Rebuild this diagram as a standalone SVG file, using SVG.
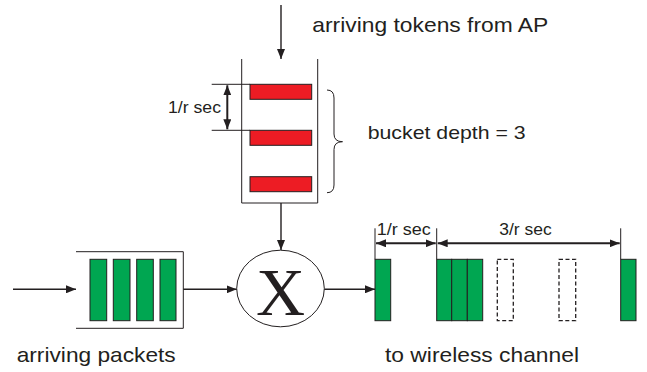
<svg xmlns="http://www.w3.org/2000/svg" width="647" height="372" viewBox="0 0 647 372">
<defs>
<marker id="ah" viewBox="0 0 10 8" refX="10" refY="4" markerWidth="10" markerHeight="8" markerUnits="userSpaceOnUse" orient="auto-start-reverse">
<path d="M0,0 L10,4 L0,8 Z" fill="#231f20"/>
</marker>
<style>
.ln{stroke:#231f20;stroke-width:1.4;fill:none}
.thin{stroke:#231f20;stroke-width:1;fill:none}
.arr{stroke:#231f20;stroke-width:1.4;fill:none;marker-end:url(#ah)}
.dbl{stroke:#231f20;stroke-width:2;fill:none;marker-end:url(#ah);marker-start:url(#ah)}
.red{fill:#ed1c24;stroke:#231f20;stroke-width:1}
.grn{fill:#00a651;stroke:#231f20;stroke-width:1}
.dash{fill:none;stroke:#231f20;stroke-width:1.3;stroke-dasharray:4,2.5}
.t{font-family:"Liberation Sans",Arial,sans-serif;fill:#231f20}
</style>
</defs>
<rect width="647" height="372" fill="#ffffff"/>

<g id="bucket">
<path class="thin" d="M241.7,59 V203 H317.7 V59"/>
<rect class="red" x="250" y="84.3" width="61.7" height="15"/>
<rect class="red" x="250" y="130.3" width="61.7" height="15"/>
<rect class="red" x="250" y="176.7" width="61.7" height="15"/>
<line class="thin" x1="211.7" y1="84.3" x2="250" y2="84.3"/>
<line class="thin" x1="211.7" y1="130.3" x2="250" y2="130.3"/>
<text class="t" x="168" y="113.3" font-size="16" textLength="53" lengthAdjust="spacingAndGlyphs">1/r sec</text>
<path class="thin" d="M327,90 Q334,90 334,98 V134 Q334,141.7 342.5,141.7 Q334,141.7 334,149.5 V185 Q334,192.7 327,192.7"/>
<text class="t" x="367.7" y="139.3" font-size="19" textLength="158" lengthAdjust="spacingAndGlyphs">bucket depth = 3</text>
</g>

<g id="tokens-label">
<text class="t" x="312.3" y="31.7" font-size="21" textLength="236" lengthAdjust="spacingAndGlyphs">arriving tokens from AP</text>
</g>

<g id="queue">
<path class="thin" d="M76,251.7 H183.3 V328.3 H76"/>
<rect class="grn" x="90" y="259.3" width="16.7" height="61.4"/>
<rect class="grn" x="113.3" y="259.3" width="16.7" height="61.4"/>
<rect class="grn" x="136.7" y="259.3" width="16.6" height="61.4"/>
<rect class="grn" x="160" y="259.3" width="16" height="61.4"/>
<text class="t" x="16.7" y="362.3" font-size="21" textLength="159" lengthAdjust="spacingAndGlyphs">arriving packets</text>
</g>

<g id="multiplier">
<ellipse cx="280.5" cy="288.5" rx="43.8" ry="38.3" fill="#ffffff" stroke="#231f20" stroke-width="1"/>
<text x="280.5" y="315" font-family="'Liberation Serif','Times New Roman',serif" font-size="68" text-anchor="middle" fill="#231f20">X</text>
</g>

<g id="output">
<rect class="grn" x="375" y="259.3" width="15.7" height="61.4"/>
<rect class="grn" x="436.7" y="259.3" width="15" height="61.4"/>
<rect class="grn" x="451.7" y="259.3" width="15.6" height="61.4"/>
<rect class="grn" x="467.3" y="259.3" width="15.4" height="61.4"/>
<rect class="dash" x="497.3" y="259.3" width="16" height="61.4"/>
<rect class="dash" x="559" y="259.3" width="16.7" height="61.4"/>
<rect class="grn" x="620.7" y="259.3" width="15.3" height="61.4"/>
<line class="thin" x1="375" y1="228.3" x2="375" y2="259.3"/>
<line class="thin" x1="436.7" y1="228.3" x2="436.7" y2="259.3"/>
<line class="thin" x1="620.7" y1="228.3" x2="620.7" y2="259.3"/>
<text class="t" x="376.7" y="235" font-size="16" textLength="54" lengthAdjust="spacingAndGlyphs">1/r sec</text>
<text class="t" x="499.3" y="235" font-size="16" textLength="52.4" lengthAdjust="spacingAndGlyphs">3/r sec</text>
<text class="t" x="385" y="362.3" font-size="21" textLength="194" lengthAdjust="spacingAndGlyphs">to wireless channel</text>
</g>

<g id="connectors">
<line class="arr" x1="281" y1="5" x2="281" y2="59"/>
<line class="arr" x1="281" y1="203" x2="281" y2="250"/>
<line class="arr" x1="13" y1="289.3" x2="76" y2="289.3"/>
<line class="arr" x1="183.3" y1="289.3" x2="236.7" y2="289.3"/>
<line class="arr" x1="324.3" y1="289.3" x2="375" y2="289.3"/>
<line class="dbl" x1="227.3" y1="85.3" x2="227.3" y2="129.3"/>
<line class="dbl" x1="376" y1="243.3" x2="435.7" y2="243.3"/>
<line class="dbl" x1="437.7" y1="243.3" x2="619.7" y2="243.3"/>
</g>
</svg>
